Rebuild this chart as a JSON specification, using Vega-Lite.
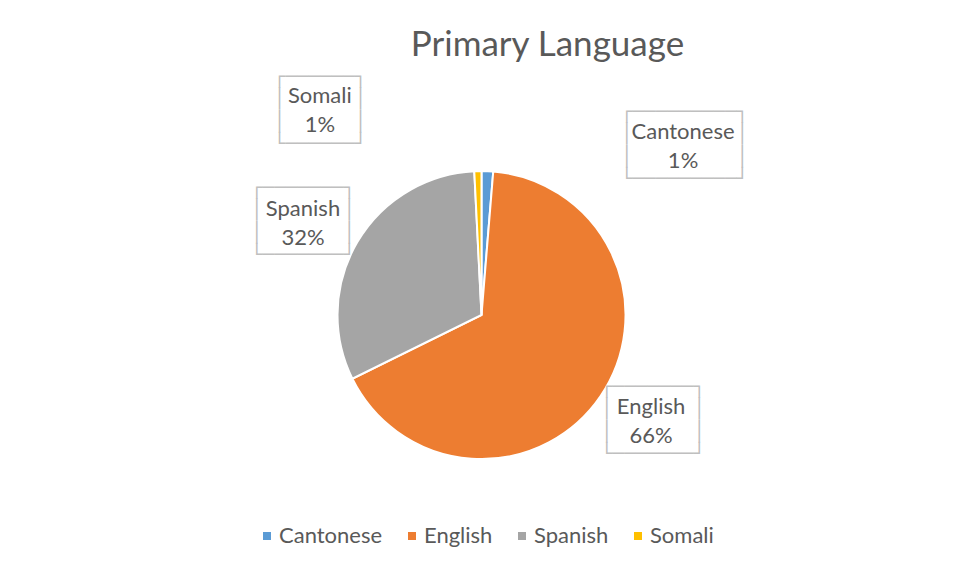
{
  "$schema": "https://vega.github.io/schema/vega-lite/v6.json",
  "autosize": "none",
  "width": 451,
  "height": 410,
  "padding": {"top": 110, "left": 256, "right": 254, "bottom": 57},
  "background": "white",
  "title": {
    "text": "Primary Language",
    "font": "Lato",
    "fontSize": 35,
    "fontWeight": "normal",
    "color": "#595959",
    "anchor": "middle",
    "frame": "group",
    "dx": 66,
    "offset": 5
  },
  "data": {
    "values": [
      {"lang": "Cantonese", "share": 0.013, "rank": 1},
      {"lang": "English", "share": 0.664, "rank": 2},
      {"lang": "Spanish", "share": 0.315, "rank": 3},
      {"lang": "Somali", "share": 0.008, "rank": 4}
    ]
  },
  "transform": [
    {"calculate": "datum.lang + '\\n' + format(datum.share, '.0%')", "as": "label"}
  ],
  "encoding": {
    "theta": {"field": "share", "type": "quantitative", "stack": true},
    "order": {"field": "rank", "type": "quantitative"},
    "color": {
      "field": "lang",
      "type": "nominal",
      "scale": {
        "domain": ["Cantonese", "English", "Spanish", "Somali"],
        "range": ["#5B9BD5", "#ED7D31", "#A5A5A5", "#FFC000"]
      },
      "legend": {
        "orient": "bottom",
        "direction": "horizontal",
        "title": null,
        "offset": 5,
        "symbolType": "square",
        "symbolSize": 64,
        "symbolStrokeWidth": 0,
        "labelFont": "Lato",
        "labelFontSize": 22,
        "labelColor": "#595959",
        "labelOffset": 1,
        "columnPadding": 18
      }
    }
  },
  "layer": [
    {
      "mark": {"type": "arc", "outerRadius": 144, "stroke": "white", "strokeWidth": 2}
    },
    {
      "mark": {
        "type": "text",
        "font": "DejaVu Sans Mono",
        "fontSize": 19.18,
        "lineHeight": 22.33,
        "lineBreak": "\n",
        "align": "center",
        "baseline": "middle",
        "radius": {"expr": "datum.lang === 'Cantonese' ? 287.1 : datum.lang === 'English' ? 186.0 : datum.lang === 'Spanish' ? 219.1 : 287.6"},
        "thetaOffset": {"expr": "datum.lang === 'Cantonese' ? 0.7446 : datum.lang === 'English' ? -0.1995 : datum.lang === 'Spanish' ? 0.0875 : -0.571"},
        "text": {"expr": "datum.lang === 'Cantonese' ? '┌─────────┐\\n│\u00a0\u00a0\u00a0\u00a0\u00a0\u00a0\u00a0\u00a0\u00a0│\\n│\u00a0\u00a0\u00a0\u00a0\u00a0\u00a0\u00a0\u00a0\u00a0│\\n└─────────┘' : datum.lang === 'Somali' ? '┌──────┐\\n│\u00a0\u00a0\u00a0\u00a0\u00a0\u00a0│\\n│\u00a0\u00a0\u00a0\u00a0\u00a0\u00a0│\\n└──────┘' : '┌───────┐\\n│\u00a0\u00a0\u00a0\u00a0\u00a0\u00a0\u00a0│\\n│\u00a0\u00a0\u00a0\u00a0\u00a0\u00a0\u00a0│\\n└───────┘'"}
      },
      "encoding": {
        "color": {"value": "#BFBFBF"}
      }
    },
    {
      "mark": {
        "type": "text",
        "font": "Lato",
        "fontSize": 22,
        "lineHeight": 29,
        "lineBreak": "\n",
        "align": "center",
        "baseline": "middle",
        "radius": {"expr": "datum.lang === 'Cantonese' ? 272.2 : datum.lang === 'English' ? 192.9 : datum.lang === 'Spanish' ? 207.6 : 272.1"},
        "thetaOffset": {"expr": "datum.lang === 'Cantonese' ? 0.793 : datum.lang === 'English' ? -0.0995 : datum.lang === 'Spanish' ? 0.005 : -0.611"}
      },
      "encoding": {
        "text": {"field": "label"},
        "color": {"value": "#595959"}
      }
    }
  ],
  "config": {
    "view": {"stroke": null}
  }
}
